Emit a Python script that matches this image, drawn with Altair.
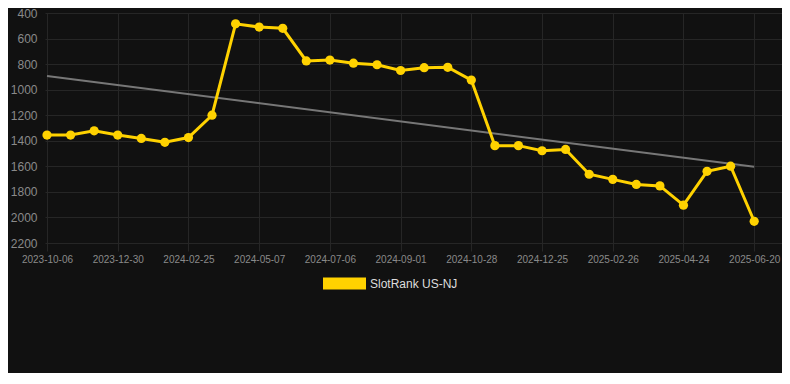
import altair as alt
import pandas as pd

tick_labels = ["2023-10-06", "2023-12-30", "2024-02-25", "2024-05-07", "2024-07-06",
               "2024-09-01", "2024-10-28", "2024-12-25", "2025-02-26", "2025-04-24",
               "2025-06-20"]
ranks = [1355, 1355, 1322, 1355, 1382, 1412, 1375, 1200, 485, 510, 520,
         775, 768, 793, 805, 850, 828, 825, 925, 1438, 1438, 1478, 1468,
         1662, 1702, 1742, 1753, 1904, 1639, 1599, 2030]
y_ticks = [400, 600, 800, 1000, 1200, 1400, 1600, 1800, 2000, 2200]
series_name = "SlotRank US-NJ"

YELLOW = "#FFD200"
GRID = "#262626"
LABEL = "#8a8a8a"
BG = "#111111"
FONT = "Liberation Sans"

df = pd.DataFrame({"i": list(range(len(ranks))), "rank": ranks, "series": series_name})

label_js = "[" + ",".join(f"'{t}'" for t in tick_labels) + "]"

x_enc = alt.X(
    "i:Q",
    scale=alt.Scale(domain=[-0.085, 31.18], nice=False, zero=False),
    axis=alt.Axis(
        values=list(range(0, len(ranks), 3)),
        labelExpr=f"{label_js}[round(datum.value / 3)]",
        title=None, domain=False, ticks=True, tickSize=8, tickColor=GRID,
        grid=True, gridColor=GRID, gridWidth=1,
        labelColor=LABEL, labelFontSize=10, labelFont=FONT, labelPadding=3,
        labelAngle=0,
    ),
)
y_enc = alt.Y(
    "rank:Q",
    scale=alt.Scale(domain=[400, 2200], reverse=True, nice=False, zero=False),
    axis=alt.Axis(
        values=y_ticks, format="d", title=None, domain=False, ticks=False,
        grid=True, gridColor=GRID, gridWidth=1,
        labelColor=LABEL, labelFontSize=12, labelFont=FONT, labelPadding=8,
    ),
)

base = alt.Chart(df)

trend = base.transform_regression("i", "rank", extent=[0, len(ranks) - 1]).mark_line(
    color="#777777", strokeWidth=2
).encode(x=x_enc, y=y_enc)

line = base.mark_line(color=YELLOW, strokeWidth=3).encode(x=x_enc, y=y_enc)

points = base.mark_circle(size=85, opacity=1).encode(
    x=x_enc,
    y=y_enc,
    color=alt.Color(
        "series:N",
        scale=alt.Scale(domain=[series_name], range=[YELLOW]),
        legend=alt.Legend(
            title=None, orient="none", legendX=278, legendY=249,
            symbolType="M-1,-0.28h2v0.56h-2z", symbolSize=1849,
            symbolStrokeWidth=0, symbolOpacity=1,
            labelColor="#dddddd", labelFontSize=12, labelFont=FONT,
            labelOffset=4, padding=0,
        ),
    ),
)

chart = alt.layer(trend, line, points).properties(
    width=737, height=230,
    background=BG,
    padding={"left": 37, "top": 5, "right": 0, "bottom": 130},
    autosize=alt.AutoSizeParams(type="none"),
).configure_view(stroke=None)

chart.save("out.html", embed_options={"renderer": "svg", "actions": False})
